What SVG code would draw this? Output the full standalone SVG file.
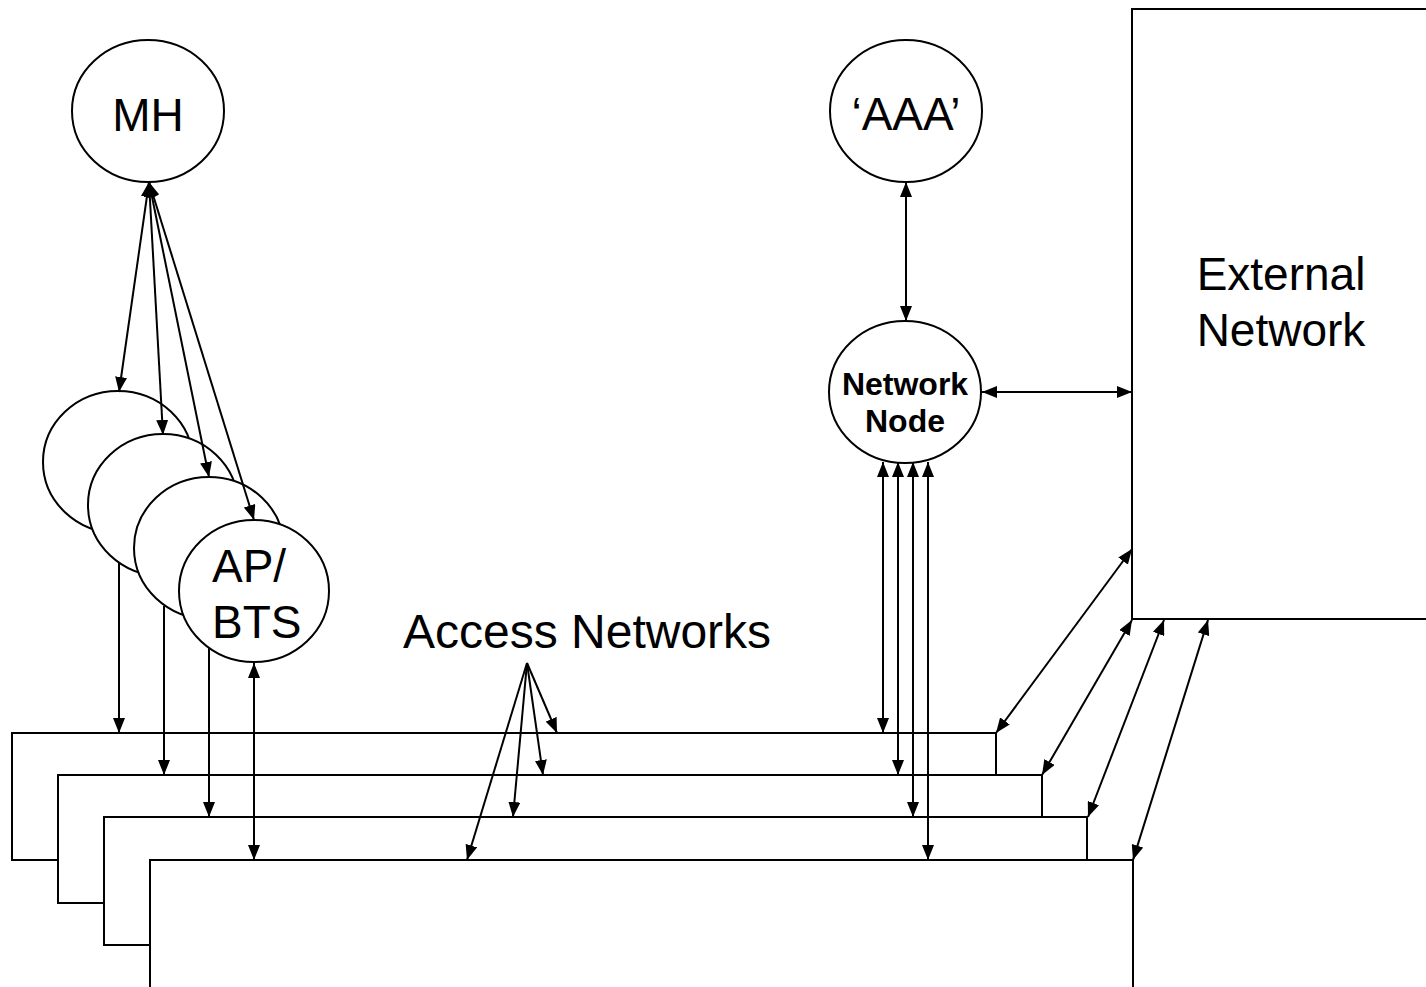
<svg xmlns="http://www.w3.org/2000/svg" width="1426" height="987" viewBox="0 0 1426 987">
<defs>
<marker id="ah" viewBox="0 0 15 12" refX="15" refY="6" markerWidth="15" markerHeight="12" markerUnits="userSpaceOnUse" orient="auto-start-reverse">
<path d="M0,0 L15,6 L0,12 z" fill="#000"/>
</marker>
<style>
.box{fill:#fff;stroke:#000;stroke-width:2}
.nd{fill:#fff;stroke:#000;stroke-width:2}
.t{font-family:"Liberation Sans",Arial,sans-serif;font-size:46px;fill:#000}
.tb{font-family:"Liberation Sans",Arial,sans-serif;font-size:32px;font-weight:bold;fill:#000}
.c{stroke:#000;stroke-width:2;fill:none}
.d{marker-start:url(#ah);marker-end:url(#ah)}
.e{marker-end:url(#ah)}
</style>
</defs>
<rect width="1426" height="987" fill="#fff"/>
<g id="external-network">
<rect class="box" x="1132" y="9" width="320" height="610"/>
<text class="t" x="1281" y="290" text-anchor="middle">External</text>
<text class="t" x="1281" y="346" text-anchor="middle">Network</text>
</g>
<g id="access-network-1"><rect class="box" x="12" y="733" width="984" height="127"/></g>
<g id="access-network-2"><rect class="box" x="58" y="775" width="984" height="128"/></g>
<g id="access-network-3"><rect class="box" x="104" y="817" width="983" height="128"/></g>
<g id="access-network-4"><rect class="box" x="150" y="860" width="983" height="160"/></g>
<g id="access-networks-label"><text class="t" x="403" y="648" style="font-size:48px">Access Networks</text></g>
<g id="mh">
<ellipse class="nd" cx="148" cy="111" rx="76" ry="71"/>
<text class="t" x="148" y="131" text-anchor="middle">MH</text>
</g>
<g id="aaa">
<ellipse class="nd" cx="906" cy="111" rx="76" ry="71"/>
<text class="t" x="906" y="130" text-anchor="middle">‘AAA’</text>
</g>
<g id="network-node">
<ellipse class="nd" cx="905" cy="392" rx="76" ry="71"/>
<text class="tb" x="905" y="395" text-anchor="middle">Network</text>
<text class="tb" x="905" y="432" text-anchor="middle">Node</text>
</g>
<g id="ap1"><ellipse class="nd" cx="118" cy="462" rx="75" ry="71"/></g>
<g id="ap2"><ellipse class="nd" cx="163" cy="505" rx="75" ry="71"/></g>
<g id="ap3"><ellipse class="nd" cx="209" cy="548" rx="75" ry="71"/></g>
<g id="ap4">
<ellipse class="nd" cx="254" cy="591" rx="75" ry="71"/>
<text class="t" x="212" y="582">AP/</text>
<text class="t" x="212" y="638">BTS</text>
</g>
<g id="connectors">
<line class="c d" x1="149" y1="182" x2="119" y2="392"/>
<line class="c d" x1="149" y1="182" x2="163" y2="435"/>
<line class="c d" x1="149" y1="182" x2="209" y2="477"/>
<line class="c d" x1="149" y1="182" x2="254" y2="520"/>
<line class="c e" x1="119" y1="562" x2="119" y2="733"/>
<line class="c e" x1="164" y1="606" x2="164" y2="775"/>
<line class="c e" x1="209" y1="648" x2="209" y2="817"/>
<line class="c d" x1="254" y1="663" x2="254" y2="860"/>
<line class="c d" x1="906" y1="182" x2="906" y2="321"/>
<line class="c d" x1="982" y1="392" x2="1132" y2="392"/>
<line class="c d" x1="883" y1="462" x2="883" y2="733"/>
<line class="c d" x1="898" y1="462" x2="898" y2="775"/>
<line class="c d" x1="913" y1="462" x2="913" y2="817"/>
<line class="c d" x1="928" y1="462" x2="928" y2="860"/>
<line class="c d" x1="1132" y1="549" x2="996" y2="733"/>
<line class="c d" x1="1132" y1="620" x2="1042" y2="775"/>
<line class="c d" x1="1164" y1="620" x2="1088" y2="817"/>
<line class="c d" x1="1208" y1="620" x2="1133" y2="860"/>
<line class="c e" x1="527" y1="663" x2="557" y2="733"/>
<line class="c e" x1="527" y1="663" x2="543" y2="775"/>
<line class="c e" x1="527" y1="663" x2="513" y2="817"/>
<line class="c e" x1="527" y1="663" x2="467" y2="860"/>
</g>
</svg>
